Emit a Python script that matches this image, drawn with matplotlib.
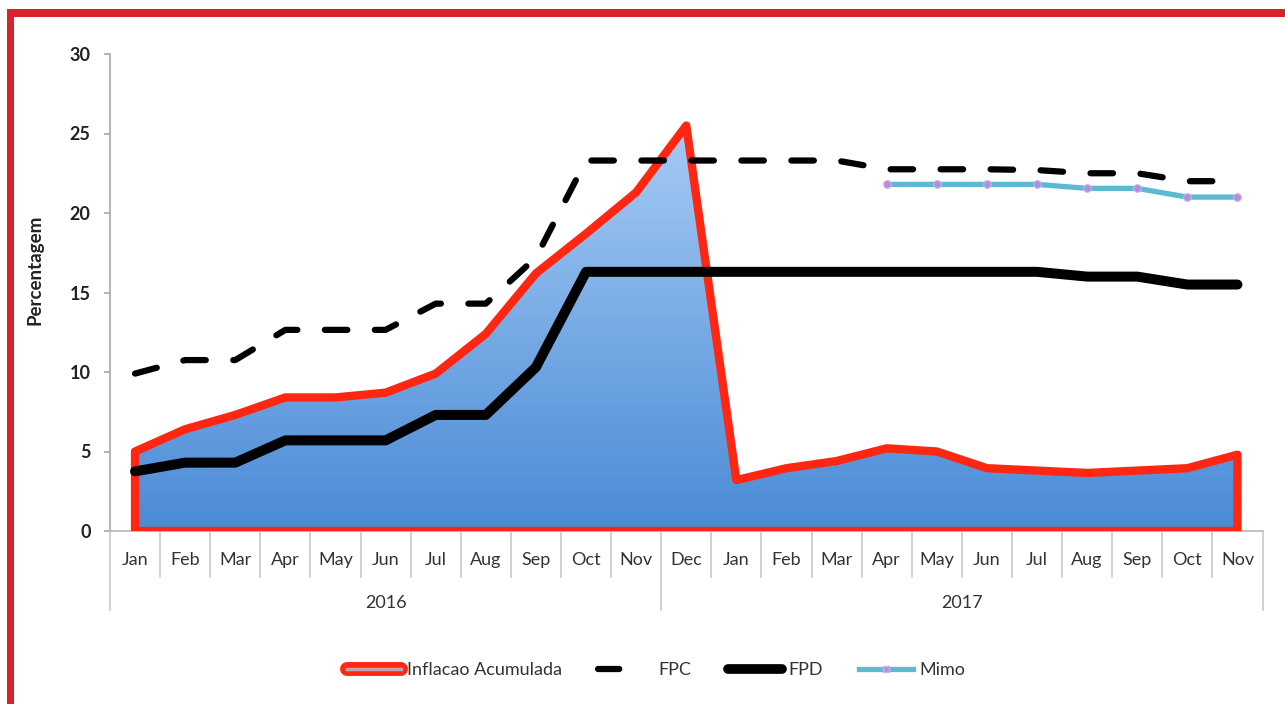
import numpy as np
import matplotlib
matplotlib.use("Agg")
import matplotlib.pyplot as plt
from matplotlib.colors import LinearSegmentedColormap
from matplotlib.patches import PathPatch, Rectangle
from matplotlib.lines import Line2D
from matplotlib.legend_handler import HandlerTuple

# ---------------- data ----------------
months = ["Jan", "Feb", "Mar", "Apr", "May", "Jun", "Jul", "Aug", "Sep", "Oct", "Nov", "Dec",
          "Jan", "Feb", "Mar", "Apr", "May", "Jun", "Jul", "Aug", "Sep", "Oct", "Nov"]
years = ["2016", "2017"]
year_counts = [11, 12]

inflacao = [5.0, 6.4, 7.3, 8.4, 8.4, 8.7, 9.9, 12.4, 16.2, 18.7, 21.3, 25.5,
            3.2, 3.95, 4.4, 5.2, 5.0, 3.95, 3.8, 3.65, 3.8, 3.95, 4.8]
fpc = [9.9, 10.75, 10.75, 12.65, 12.65, 12.65, 14.3, 14.3, 17.2, 23.3, 23.3, 23.3,
       23.3, 23.3, 23.3, 22.75, 22.75, 22.75, 22.7, 22.5, 22.5, 22.0, 22.0]
fpd = [3.75, 4.3, 4.3, 5.7, 5.7, 5.7, 7.3, 7.3, 10.3, 16.3, 16.3, 16.3,
       16.3, 16.3, 16.3, 16.3, 16.3, 16.3, 16.3, 16.0, 16.0, 15.5, 15.5]
mimo = [None] * 15 + [21.8, 21.8, 21.8, 21.8, 21.55, 21.55, 21.0, 21.0]

yticks = [0, 5, 10, 15, 20, 25, 30]

# ---------------- figure ----------------
W, H = 1285, 704
fig = plt.figure(figsize=(W / 100, H / 100), dpi=100)
plt.rcParams['font.family'] = ['Lato', 'DejaVu Sans']

ax_l, ax_r, ax_t, ax_b = 110, 1262.5, 54, 531
ax = fig.add_axes([ax_l / W, 1 - ax_b / H, (ax_r - ax_l) / W, (ax_b - ax_t) / H])

x = np.arange(len(months))
RED = "#ff2612"

# gradient area
poly = ax.fill_between(x, 0, inflacao, facecolor="none", edgecolor="none")
path = poly.get_paths()[0]
poly.remove()
edge = PathPatch(path, facecolor="none", edgecolor=RED, lw=6, joinstyle="round",
                 transform=ax.transData, zorder=3)
ax.add_patch(edge)
cmap = LinearSegmentedColormap.from_list("g", ["#4a8bd6", "#a6cbf4"])
grad = np.linspace(0, 1, 256).reshape(-1, 1)
im = ax.imshow(grad, extent=[-0.5, len(months) - 0.5, 0, max(inflacao)], origin="lower",
               aspect="auto", cmap=cmap, zorder=2)
im.set_clip_path(edge)

# lines
ax.plot(x, fpc, color="black", lw=4.5, dashes=(3.6, 4.4), dash_capstyle="round",
        solid_joinstyle="round", zorder=5)
ax.plot(x, fpd, color="black", lw=7.2, solid_joinstyle="round", solid_capstyle="round", zorder=5)
mx = [i for i, v in enumerate(mimo) if v is not None]
my = [v for v in mimo if v is not None]
ax.plot(mx, my, color="#5bb9d1", lw=3.8, marker="o", ms=5.5, mfc="#b28fdc", mec="#cdb0ec",
        mew=0.8, zorder=6)

ax.set_xlim(-0.5, len(months) - 0.5)
ax.set_ylim(0, 30)

# axes styling
for s in ["top", "right"]:
    ax.spines[s].set_visible(False)
ax.spines["left"].set_color("#a8a8a8")
ax.spines["bottom"].set_color("#b8b8b8")
ax.spines["left"].set_linewidth(1.2)
ax.spines["bottom"].set_linewidth(1.2)
ax.set_yticks(yticks)
ax.set_yticklabels([str(t) for t in yticks], fontsize=13, fontweight="bold", color="#222222")
ax.tick_params(axis="y", length=4, width=1.2, color="#a8a8a8", pad=10)
ax.set_xticks([])

# category labels & separators
axh = ax_b - ax_t
def yfrac(py):
    return (ax_b - py) / axh

tr = ax.get_xaxis_transform()
for i, m in enumerate(months):
    ax.text(i, yfrac(560), m, transform=tr, ha="center", va="center", fontsize=13,
            color="#333333", clip_on=False)
year_bounds = np.concatenate([[0], np.cumsum(year_counts)]) - 0.5
for k in range(len(months) + 1):
    xb = k - 0.5
    low = 610 if xb in year_bounds else 577
    ax.add_line(Line2D([xb, xb], [0, yfrac(low)], transform=tr, color="#c8c8c8", lw=1.2,
                       clip_on=False))
for j, yr in enumerate(years):
    xc = (year_bounds[j] + year_bounds[j + 1]) / 2
    ax.text(xc, yfrac(603), yr, transform=tr, ha="center", va="center", fontsize=13,
            color="#333333", clip_on=False)

fig.text(35 / W, 1 - 270 / H, "Percentagem", rotation=90, ha="center", va="center",
         fontsize=13.5, fontweight="bold", color="#222222")

# legend
h_inf = (Line2D([], [], color=RED, lw=10, solid_capstyle="round"),
         Line2D([], [], color="#c4a3b0", lw=2.5))
h_fpc = Line2D([], [], color="black", lw=4.5, dashes=(3.4, 12), dash_capstyle="round")
h_fpd = Line2D([], [], color="black", lw=7, solid_capstyle="round")
h_mimo = Line2D([], [], color="#5bb9d1", lw=3.8, marker="s", ms=5, mfc="#b28fdc", mec="#cdb0ec")
fig.legend([h_inf, h_fpc, h_fpd, h_mimo], ["Inflacao Acumulada", "FPC", "FPD", "Mimo"],
           handler_map={tuple: HandlerTuple(ndivide=1, pad=0)},
           loc="center", bbox_to_anchor=(656 / W, 1 - 670 / H), ncol=4, frameon=False,
           fontsize=13, handlelength=3.0, handletextpad=0.35, columnspacing=2.0,
           labelcolor="#333333")

# red frame
fig.patches.append(Rectangle((7 / W, 1 - 17 / H), 1 - 7 / W, 8 / H, transform=fig.transFigure,
                             facecolor="#d8232c", edgecolor="none", figure=fig))
fig.patches.append(Rectangle((7 / W, 0), 7 / W, 1 - 9 / H, transform=fig.transFigure,
                             facecolor="#d8232c", edgecolor="none", figure=fig))

fig.savefig("out.png", dpi=100)
